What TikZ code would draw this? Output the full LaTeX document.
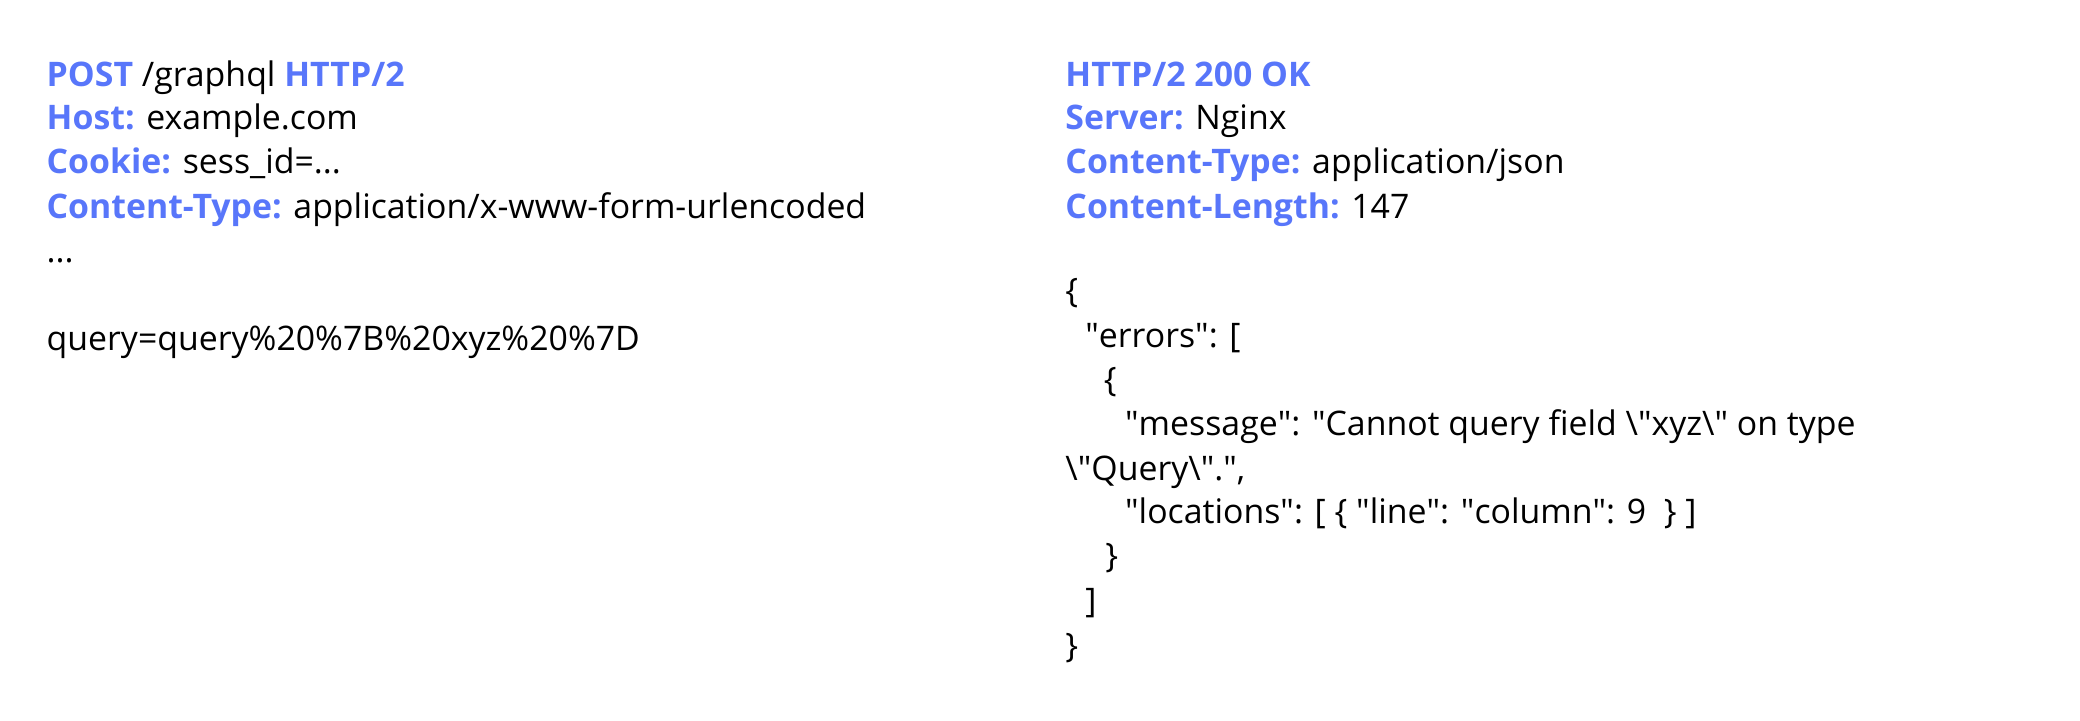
\documentclass[tikz,border=0pt]{standalone}
\usepackage{fontspec}
\setmainfont{Open Sans}[Ligatures=ResetAll]
\definecolor{hb}{RGB}{88,118,250}
\begin{document}
\begin{tikzpicture}[x=1pt,y=1pt,
  ln/.style={anchor=base west,inner sep=0pt,font=\fontsize{25.5}{28}\selectfont,text=black}]
\useasboundingbox (0,0) rectangle (1568,543);
\newcommand{\hk}[1]{\textcolor{hb}{\bfseries #1}}
\newcommand{\qq}{\XeTeXglyph\the\XeTeXcharglyph"0022\relax}
\node[ln] (a1) at (35,543-65) {\hk{POST} /graphql \hk{HTTP/2}};
\node[ln] (a2) at (35,543-98) {\hk{Host:} example.com};
\node[ln] (a3) at (35,543-131) {\hk{Cookie:} sess\_id=...};
\node[ln] (a4) at (35,543-165) {\hk{Content-Type:} application/x-www-form-urlencoded};
\node[ln] (a5) at (35,543-198) {...};
\node[ln] (a6) at (35,543-264) {query=query\%20\%7B\%20xyz\%20\%7D};
\node[ln] (b1) at (803,543-65) {\hk{HTTP/2 200 OK}};
\node[ln] (b2) at (803,543-98) {\hk{Server:} Nginx};
\node[ln] (b3) at (803,543-131) {\hk{Content-Type:} application/json};
\node[ln] (b4) at (803,543-165) {\hk{Content-Length:} 147};
\node[ln] (c1) at (803,543-228) {\{};
\node[ln] (c2) at (818,543-262) {\qq errors\qq: [};
\node[ln] (c3) at (832,543-295) {\{};
\node[ln] (c4) at (848,543-328) {\qq message\qq: \qq Cannot query field \textbackslash\qq xyz\textbackslash\qq{} on type};
\node[ln] (c5) at (803,543-362) {\textbackslash\qq Query\textbackslash\qq.\qq,};
\node[ln] (c6) at (848,543-395) {\qq locations\qq: [ \{ \qq line\qq: \qq column\qq: 9 \ \} ]};
\node[ln] (c7) at (833,543-428) {\}};
\node[ln] (c8) at (818,543-462) {]};
\node[ln] (c9) at (803,543-496) {\}};
\end{tikzpicture}
\end{document}
